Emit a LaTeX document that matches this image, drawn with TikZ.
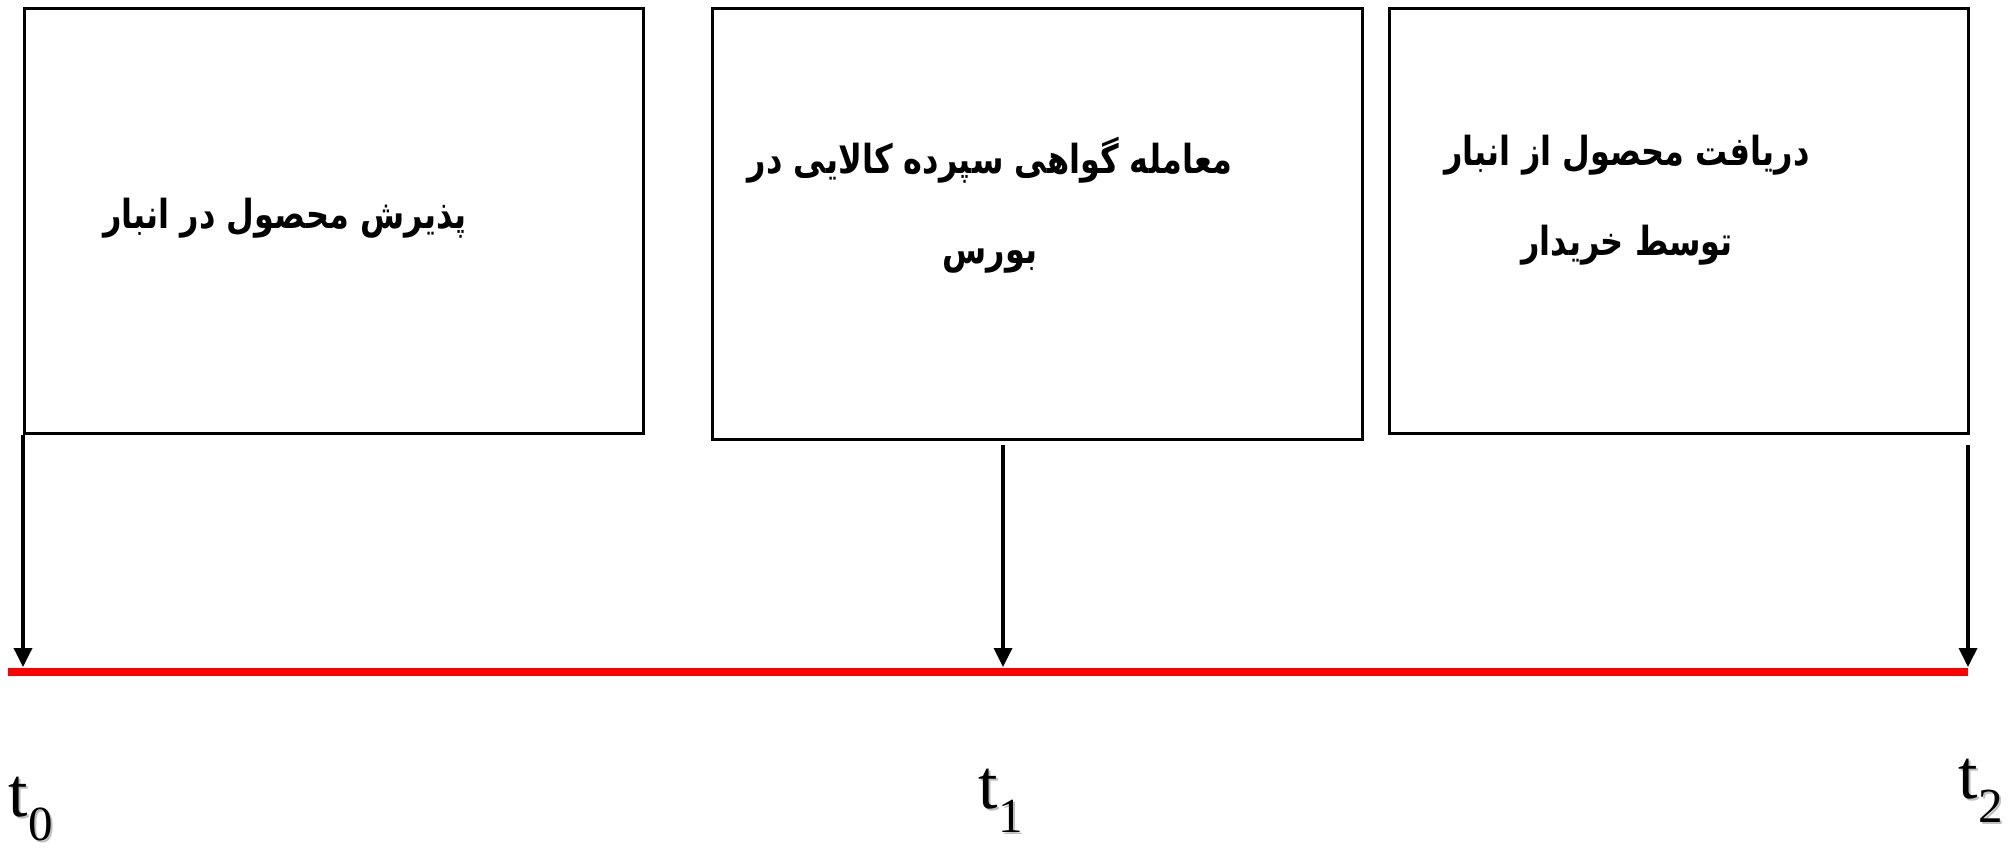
\documentclass[tikz,border=0pt]{standalone}
\usepackage{fontspec}
\setmainfont{Liberation Serif}
\newfontfamily\arabicfont[Script=Arabic]{DejaVu Sans}
\TeXXeTstate=1
\usetikzlibrary{arrows.meta}
\tikzset{
  box/.style={draw=black, line width=2.5pt, anchor=north west, inner sep=0pt},
  fa/.style={font=\arabicfont\bfseries\fontsize{40}{60}\selectfont, align=center, inner sep=0pt, xscale=0.8, transform shape},
  arr/.style={draw=black, line width=3.5pt, -{Triangle[length=19pt,width=18pt]}},
  axis/.style={draw=red, line width=8pt},
  tlab/.style={font=\fontsize{70}{76}\selectfont, inner sep=0pt},
}
\begin{document}
\begin{tikzpicture}[x=1pt,y=-1pt]
\useasboundingbox (0,0) rectangle (2010,852);
\node[box, minimum width=619pt, minimum height=425pt] (b1) at (23,7) {};
\node[box, minimum width=650pt, minimum height=431pt] (b2) at (711,7) {};
\node[box, minimum width=579pt, minimum height=425pt] (b3) at (1388,7) {};

\node[fa] (l1) at (285,218) {\beginR پذیرش محصول در انبار\endR};
\node[fa] (l2) at (990,205) {\beginR معامله گواهی سپرده کالایی در\endR\\[30pt]\beginR بورس\endR};
\node[fa] (l3) at (1627,200) {\beginR دریافت محصول از انبار\endR\\[30pt]\beginR توسط خریدار\endR};

\coordinate (a0) at (8,672);
\coordinate (a2) at (1968,672);
\draw[axis] (a0) -- (a2);

\coordinate (s1) at (1003,445);
\coordinate (s2) at (1968,445);
\draw[arr] (b1.south west) -- (23,667);
\draw[arr] (s1) -- (1003,667);
\draw[arr] (s2) -- (1968,667);

\node[tlab, text=black!25] at (33,811) {t\textsubscript{0}};
\node[tlab] (t0) at (31,809) {t\textsubscript{0}};
\node[tlab, text=black!25] at (1003,803) {t\textsubscript{1}};
\node[tlab] (t1) at (1001,801) {t\textsubscript{1}};
\node[tlab, text=black!25] at (1983,793) {t\textsubscript{2}};
\node[tlab] (t2) at (1981,791) {t\textsubscript{2}};
\end{tikzpicture}
\end{document}
